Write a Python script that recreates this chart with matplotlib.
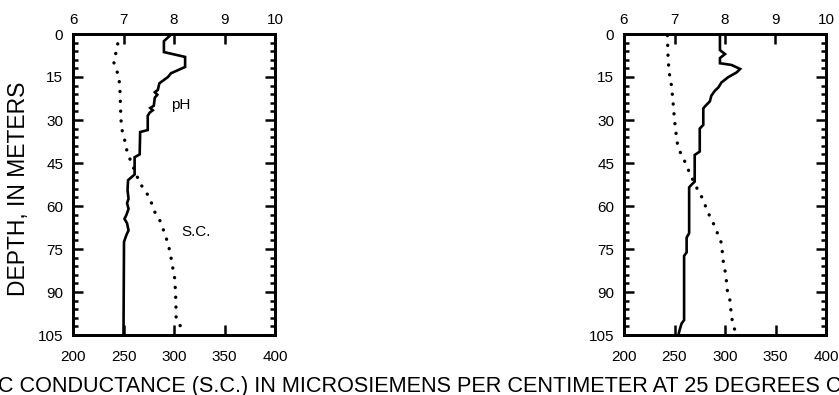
import matplotlib
matplotlib.use("Agg")
import matplotlib.pyplot as plt
from matplotlib.ticker import MultipleLocator

plt.rcParams['font.family'] = ['Liberation Sans', 'DejaVu Sans']

# ---- data: left well ----
left_ph_depth = [0, 0.4, 2.5, 6.3, 8.0, 11.5, 13.7, 15.0, 17.2, 19.5, 20.3, 21.2, 22.2,
                 25.0, 25.8, 26.6, 27.4, 28.5, 33.5, 34.2, 42.0, 43.0, 49.0, 51.0,
                 54.5, 57.5, 59.0, 61.0, 63.0, 64.5, 66.0, 68.5, 70.0, 72.5, 105.0]
left_ph = [7.93, 7.93, 7.80, 7.80, 8.22, 8.22, 7.94, 7.88, 7.71, 7.68, 7.62, 7.67, 7.62,
           7.60, 7.53, 7.58, 7.52, 7.48, 7.48, 7.33, 7.32, 7.22, 7.22, 7.09,
           7.08, 7.10, 7.07, 7.10, 7.06, 7.02, 7.07, 7.10, 7.06, 7.01, 7.00]
left_sc_depth = [0, 3, 6, 9.5, 12.5, 15, 20, 25, 30, 34.5, 38, 41, 44, 49, 52, 54.4,
                 57.3, 62, 64.8, 67.8, 73, 76.5, 81.8, 84.7, 89.9, 95.7, 98.6, 101.5, 102.8]
left_sc = [245, 244.5, 243, 240, 243, 245.5, 246.5, 247, 247.5, 249, 252, 253.5, 256.8,
           262.7, 266, 271, 276, 280.8, 285.7, 289, 294, 296.3, 298.9, 300.5, 301.5,
           302, 302, 305, 311]

# ---- data: right well ----
right_ph_depth = [0, 5.6, 7.0, 8.4, 10.2, 10.8, 12.2, 13.4, 15.1, 16.9, 18.6, 19.8, 21.5,
                  23.5, 25.3, 26.0, 31.7, 33.0, 41.0, 42.2, 51.5, 52.7, 53.5, 69.5, 71.0,
                  76.2, 77.4, 99.8, 101.0, 104.0, 105.0]
right_ph = [7.90, 7.90, 8.00, 7.90, 7.90, 8.13, 8.30, 8.23, 8.06, 7.93, 7.87, 7.80, 7.73,
            7.70, 7.60, 7.57, 7.57, 7.50, 7.50, 7.40, 7.40, 7.33, 7.29, 7.29, 7.24,
            7.24, 7.19, 7.19, 7.14, 7.09, 7.08]
right_sc_depth = [0.5, 7, 13, 18, 23.5, 30, 33, 36, 38.5, 41.5, 43.5, 46, 48.5, 54, 56.5,
                  62, 65, 67, 70, 73, 78.8, 84, 90, 92.8, 98.6, 101.5, 104]
right_sc = [243, 243.5, 244.5, 247, 248.5, 250, 251, 252, 253, 256, 259, 262, 265, 272.5,
            276.5, 283, 286.6, 290, 293, 296.6, 298, 300.8, 302.5, 304.8, 306.5, 308, 310.5]

sc_ticks = [200, 250, 300, 350, 400]
ph_ticks = [6, 7, 8, 9, 10]
depth_ticks = [0, 15, 30, 45, 60, 75, 90, 105]

W, H = 839, 395
fig = plt.figure(figsize=(W / 100, H / 100), dpi=100)

def make_panel(left_px, ph_d, ph_v, sc_d, sc_v):
    ax = fig.add_axes([left_px / W, 60 / H, 202 / W, 301 / H])
    ax.set_xlim(200, 400)
    ax.set_ylim(105, 0)
    ax.set_xticks(sc_ticks)
    ax.set_yticks(depth_ticks)
    ax.yaxis.set_minor_locator(MultipleLocator(3))
    for s in ax.spines.values():
        s.set_linewidth(2.0)
    ax.tick_params(axis='x', which='major', direction='in', length=7.5, width=1.8,
                   labelsize=11, pad=11, bottom=True, top=False)
    ax.tick_params(axis='y', which='major', direction='in', length=7.5, width=1.8,
                   labelsize=11, pad=7, left=True, right=True)
    ax.tick_params(axis='y', which='minor', direction='in', length=3.8, width=1.8,
                   left=True, right=True)
    ax2 = ax.twiny()
    ax2.set_xlim(6, 10)
    ax2.set_xticks(ph_ticks)
    ax2.tick_params(axis='x', direction='in', length=7.5, width=1.8, labelsize=11, pad=5)
    for s in ax2.spines.values():
        s.set_linewidth(2.0)
    ax2.plot(ph_v, ph_d, color='black', lw=1.9, solid_joinstyle='miter')
    ax.plot(sc_v, sc_d, color='black', lw=2.4, linestyle=(0, (0.05, 2.9)),
            dash_capstyle='round')
    return ax, ax2

axL, axL2 = make_panel(73, left_ph_depth, left_ph, left_sc_depth, left_sc)
axR, axR2 = make_panel(624, right_ph_depth, right_ph, right_sc_depth, right_sc)

axL.text(307, 24.8, 'pH', fontsize=11, ha='center', va='center')
axL.text(322, 69, 'S.C.', fontsize=11, ha='center', va='center')

fig.text(19 / W, 1 - 189 / H, 'DEPTH, IN METERS', rotation=90, fontsize=16.5,
         ha='center', va='center')
fig.text(0.496, 3 / H,
         'SPECIFIC CONDUCTANCE (S.C.) IN MICROSIEMENS PER CENTIMETER AT 25 DEGREES CELSIUS',
         fontsize=15.6, ha='center', va='baseline')

fig.savefig('out.png', dpi=100)
